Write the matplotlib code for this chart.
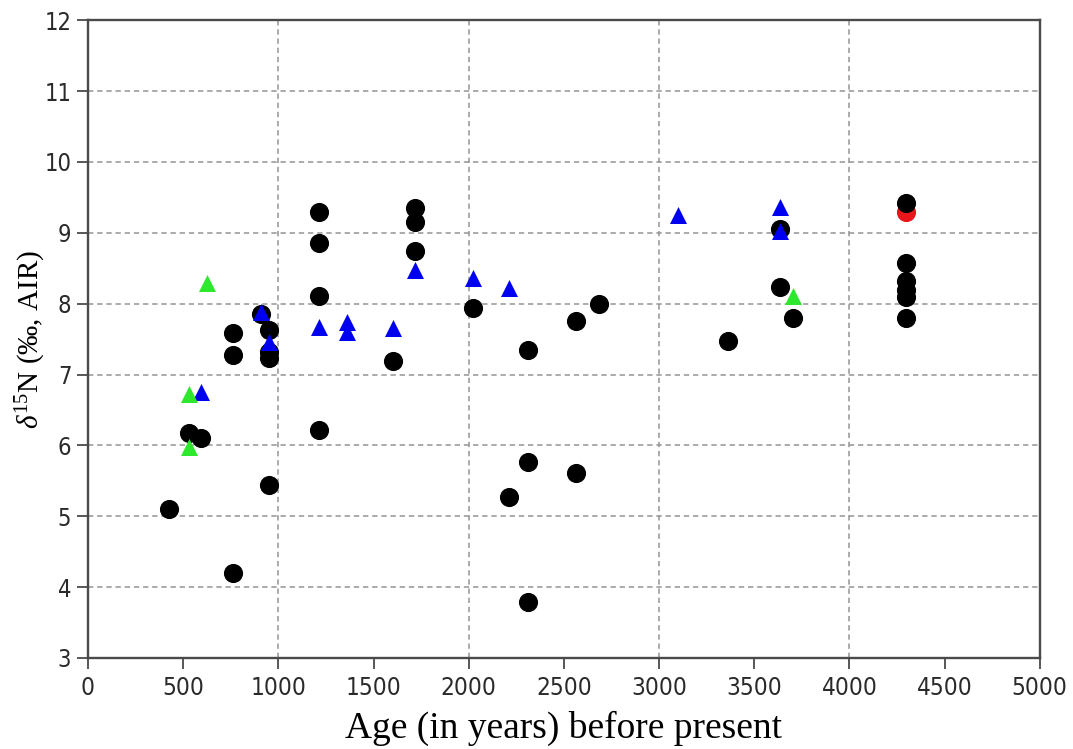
import matplotlib
matplotlib.use("Agg")
import matplotlib.pyplot as plt

# black circles
blk_age = [426, 532, 595, 763, 763, 763, 911, 953, 953, 953, 953, 1216, 1216, 1216, 1216,
           1600, 1716, 1716, 1716, 2021, 2211, 2311, 2311, 2311, 2563, 2563, 2684,
           3363, 3637, 3637, 3705, 4300, 4300, 4300, 4300, 4300, 4300]
blk_d15n = [5.10, 6.17, 6.10, 7.58, 7.27, 4.20, 7.85, 7.63, 7.32, 7.24, 5.44, 9.29, 8.86, 8.11, 6.22,
            7.19, 9.35, 9.15, 8.75, 7.94, 5.27, 7.34, 5.76, 3.79, 7.75, 5.61, 8.00,
            7.48, 9.06, 8.23, 7.80, 9.42, 8.58, 8.32, 8.20, 8.10, 7.80]

# red circle
red_age = [4300]
red_d15n = [9.29]

# blue triangles
blu_age = [595, 911, 953, 1216, 1363, 1363, 1600, 1716, 2021, 2211, 3100, 3637, 3637]
blu_d15n = [6.75, 7.88, 7.46, 7.67, 7.74, 7.60, 7.66, 8.47, 8.36, 8.22, 9.25, 9.36, 9.03]

# green triangles
grn_age = [532, 532, 626, 3705]
grn_d15n = [6.72, 5.98, 8.29, 8.11]

plt.rcParams['mathtext.fontset'] = 'custom'
plt.rcParams['mathtext.rm'] = 'Liberation Serif'
plt.rcParams['mathtext.it'] = 'Liberation Serif:italic'

fig = plt.figure(figsize=(10.73, 7.49), dpi=100)
ax = fig.add_axes([0.082, 0.1215, 0.887, 0.8515])

ax.scatter(red_age, red_d15n, s=190, color='#e8151b', marker='o', linewidths=0, zorder=3)
ax.scatter(blk_age, blk_d15n, s=190, color='black', marker='o', linewidths=0, zorder=4)
ax.scatter(blu_age, blu_d15n, s=150, color='#0000f0', marker='^', linewidths=0, zorder=5)
ax.scatter(grn_age, grn_d15n, s=150, color='#2ee82e', marker='^', linewidths=0, zorder=6)

ax.set_xlim(0, 5000)
ax.set_ylim(3, 12)
ax.set_xticks(range(0, 5001, 1000))
ax.set_xticks(range(500, 5000, 1000), minor=True)
ax.set_xticklabels([str(v) for v in range(0, 5001, 1000)])
ax.set_xticklabels([str(v) for v in range(500, 5000, 1000)], minor=True)
ax.set_yticks(range(3, 13))

gcol = '#949494'
ax.grid(True, which='major', axis='both', color=gcol, linestyle=(0, (3.5, 2.5)), linewidth=1.1)
ax.set_axisbelow(True)

for sp in ax.spines.values():
    sp.set_color('#4a4a4a')
    sp.set_linewidth(1.7)

for lab in ax.get_xticklabels(which='both'):
    lab.set_fontfamily('DejaVu Sans')
    lab.set_fontstretch('condensed')
    lab.set_fontsize(17.5)
    lab.set_color('#2a2a2a')
for lab in ax.get_yticklabels():
    lab.set_fontfamily('DejaVu Sans')
    lab.set_fontstretch('condensed')
    lab.set_fontsize(17)
    lab.set_color('#2a2a2a')

ax.tick_params(axis='both', which='both', direction='out', length=8, width=1.3, color='#4a4a4a')
ax.tick_params(axis='x', which='both', pad=5)
ax.tick_params(axis='y', pad=4)

ax.set_xlabel('Age (in years) before present', fontfamily='Liberation Serif', fontsize=27,
              labelpad=8)
ax.set_ylabel(r'$\delta^{15}$N (‰, AIR)', fontfamily='Liberation Serif', fontsize=21,
              labelpad=-3)

fig.savefig('out.png', dpi=100)
